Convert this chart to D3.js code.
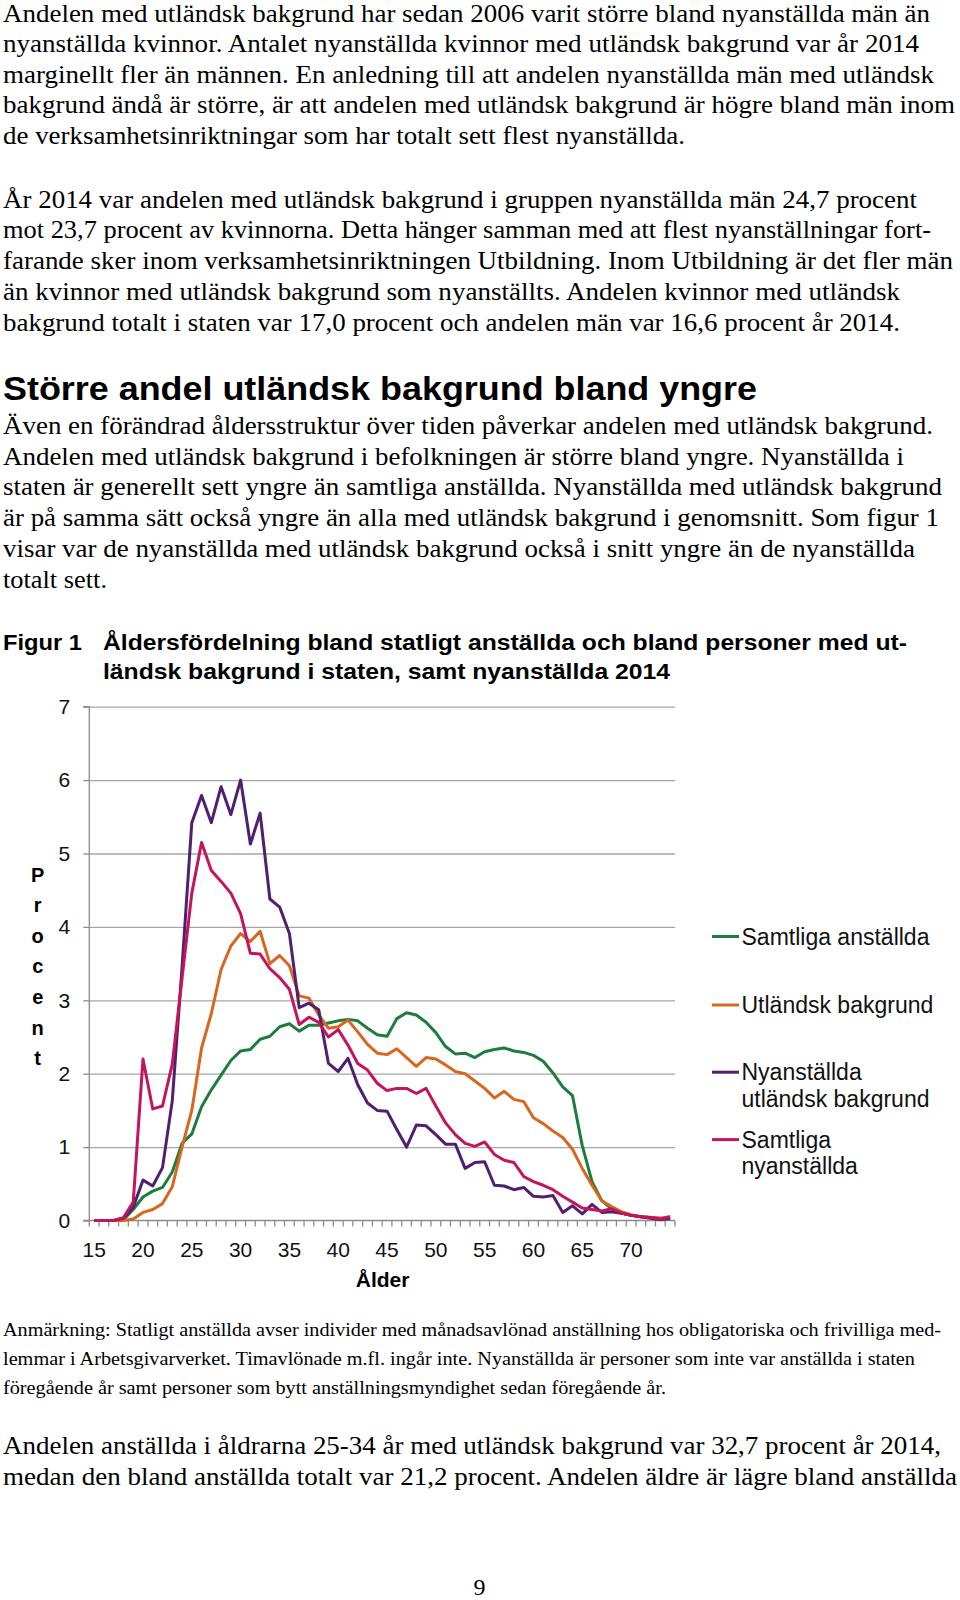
<!DOCTYPE html>
<html><head><meta charset="utf-8">
<script src="https://cdn.jsdelivr.net/npm/d3@7"></script>
<style>body{margin:0;background:#fff}svg{display:block}</style>
</head><body>
<svg id="page" width="960" height="1600"></svg>
<script>
// ---------- DATA ----------
const ages = [15,16,17,18,19,20,21,22,23,24,25,26,27,28,29,30,31,32,33,34,35,36,37,38,39,40,41,42,43,44,45,46,47,48,49,50,51,52,53,54,55,56,57,58,59,60,61,62,63,64,65,66,67,68,69,70,71,72,73,74];
const xTickLabels = [15,20,25,30,35,40,45,50,55,60,65,70];
const yTicks = [0,1,2,3,4,5,6,7];
const seriesNames = ["Samtliga anställda","Utländsk bakgrund","Nyanställda utländsk bakgrund","Samtliga nyanställda"];
const samtligaAnstallda = [0,0,0,0.01,0.15,0.32,0.40,0.45,0.66,1.05,1.18,1.55,1.78,1.98,2.18,2.31,2.33,2.47,2.51,2.64,2.68,2.58,2.66,2.66,2.69,2.72,2.74,2.72,2.62,2.53,2.51,2.75,2.83,2.80,2.70,2.56,2.37,2.27,2.28,2.22,2.30,2.33,2.35,2.31,2.29,2.25,2.17,2.01,1.82,1.70,1.02,0.53,0.27,0.16,0.10,0.07,0.05,0.04,0.03,0.02];
const utlandskBakgrund = [0,0,0,0,0.02,0.11,0.15,0.23,0.46,1.00,1.50,2.35,2.82,3.42,3.74,3.91,3.80,3.94,3.50,3.61,3.47,3.06,3.03,2.80,2.62,2.64,2.73,2.57,2.40,2.28,2.26,2.34,2.22,2.10,2.22,2.20,2.12,2.03,2.00,1.90,1.80,1.67,1.76,1.65,1.62,1.40,1.32,1.22,1.13,0.97,0.71,0.48,0.27,0.19,0.12,0.08,0.05,0.04,0.03,0.05];
const nyanstalldaUtlandsk = [0,0,0,0.03,0.18,0.55,0.47,0.72,1.63,3.45,5.42,5.79,5.42,5.91,5.53,6.00,5.13,5.55,4.38,4.27,3.91,2.90,2.96,2.87,2.14,2.03,2.21,1.85,1.60,1.50,1.49,1.24,1.00,1.30,1.29,1.17,1.04,1.04,0.71,0.79,0.80,0.48,0.47,0.42,0.45,0.33,0.32,0.34,0.11,0.20,0.09,0.22,0.11,0.12,0.10,0.07,0.05,0.03,0.01,0.03];
const samtligaNyanstallda = [0,0,0,0.04,0.25,2.20,1.52,1.56,2.13,3.30,4.46,5.15,4.77,4.62,4.46,4.18,3.64,3.63,3.43,3.31,3.15,2.67,2.77,2.70,2.50,2.60,2.39,2.14,2.05,1.87,1.77,1.80,1.80,1.73,1.80,1.56,1.33,1.17,1.05,1.01,1.07,0.90,0.82,0.79,0.60,0.53,0.48,0.42,0.33,0.25,0.17,0.15,0.13,0.16,0.10,0.07,0.05,0.04,0.02,0.05];
const legendLabels = [["Samtliga anställda"],["Utländsk bakgrund"],["Nyanställda","utländsk bakgrund"],["Samtliga","nyanställda"]];
const yAxisTitle = "Procent";
const xAxisTitle = "Ålder";

const para1 = ["Andelen med utländsk bakgrund har sedan 2006 varit större bland nyanställda män än",
"nyanställda kvinnor. Antalet nyanställda kvinnor med utländsk bakgrund var år 2014",
"marginellt fler än männen. En anledning till att andelen nyanställda män med utländsk",
"bakgrund ändå är större, är att andelen med utländsk bakgrund är högre bland män inom",
"de verksamhetsinriktningar som har totalt sett flest nyanställda."];
const para2 = ["År 2014 var andelen med utländsk bakgrund i gruppen nyanställda män 24,7 procent",
"mot 23,7 procent av kvinnorna. Detta hänger samman med att flest nyanställningar fort-",
"farande sker inom verksamhetsinriktningen Utbildning. Inom Utbildning är det fler män",
"än kvinnor med utländsk bakgrund som nyanställts. Andelen kvinnor med utländsk",
"bakgrund totalt i staten var 17,0 procent och andelen män var 16,6 procent år 2014."];
const heading = "Större andel utländsk bakgrund bland yngre";
const para3 = ["Även en förändrad åldersstruktur över tiden påverkar andelen med utländsk bakgrund.",
"Andelen med utländsk bakgrund i befolkningen är större bland yngre. Nyanställda i",
"staten är generellt sett yngre än samtliga anställda. Nyanställda med utländsk bakgrund",
"är på samma sätt också yngre än alla med utländsk bakgrund i genomsnitt. Som figur 1",
"visar var de nyanställda med utländsk bakgrund också i snitt yngre än de nyanställda",
"totalt sett."];
const figLabel = "Figur 1";
const figTitle = ["Åldersfördelning bland statligt anställda och bland personer med ut-",
"ländsk bakgrund i staten, samt nyanställda 2014"];
const note = ["Anmärkning: Statligt anställda avser individer med månadsavlönad anställning hos obligatoriska och frivilliga med-",
"lemmar i Arbetsgivarverket. Timavlönade m.fl. ingår inte. Nyanställda är personer som inte var anställda i staten",
"föregående år samt personer som bytt anställningsmyndighet sedan föregående år."];
const para4 = ["Andelen anställda i åldrarna 25-34 år med utländsk bakgrund var 32,7 procent år 2014,",
"medan den bland anställda totalt var 21,2 procent. Andelen äldre är lägre bland anställda"];
const pageNumber = "9";

// ---------- LAYOUT ----------
const svg = d3.select("#page");
const serif = "'Liberation Serif','Times New Roman',serif";
const sans = "'Liberation Sans',Arial,sans-serif";

function block(lines, opt){
  lines.forEach((t,i)=>{
    const el = svg.append("text")
      .attr("x", opt.x).attr("y", opt.y0 + i*opt.step)
      .attr("font-family", opt.font).attr("font-size", opt.size)
      .attr("font-weight", opt.weight||"normal").attr("fill","#000")
      .text(t);
    if (opt.widths && opt.widths[i]) el.attr("textLength", opt.widths[i]).attr("lengthAdjust","spacingAndGlyphs");
  });
}
block(para1,{x:3,y0:21.5,step:30.5,font:serif,size:25.5,widths:[927,916,931,952,682]});
block(para2,{x:3,y0:207.5,step:30.8,font:serif,size:25.5,widths:[914,928,950,897,897]});
block([heading],{x:3,y0:399.5,step:0,font:sans,size:33,weight:"bold",widths:[754]});
block(para3,{x:3,y0:433.8,step:30.8,font:serif,size:25.5,widths:[930,901,939,936,912,104]});
block([figLabel],{x:3,y0:650,step:0,font:sans,size:22,weight:"bold",widths:[79]});
block(figTitle,{x:103,y0:650,step:28.6,font:sans,size:22,weight:"bold",widths:[804,567]});
block(note,{x:3,y0:1336,step:29,font:serif,size:18.5,widths:[938,912,663]});
block(para4,{x:3,y0:1453.8,step:31,font:serif,size:25.5,widths:[938,954]});
svg.append("text").attr("x",479.5).attr("y",1595).attr("text-anchor","middle")
  .attr("font-family",serif).attr("font-size",24).text(pageNumber);

// ---------- CHART ----------
const plotLeft = 89.3, plotRight = 675, plotTop = 706.7, plotBottom = 1220.5;
const x = d3.scaleBand().domain(ages).range([plotLeft, plotRight]).padding(0);
const y = d3.scaleLinear().domain([0,7]).range([plotBottom, plotTop]);
const colors = ["#1c7d3e","#d9661f","#4f1f70","#c4145c"];
const chart = svg.append("g");

// gridlines
chart.append("g").attr("transform",`translate(${plotLeft},0)`)
  .call(d3.axisLeft(y).tickValues(yTicks.slice(1)).tickSize(-(plotRight-plotLeft)).tickFormat(""))
  .call(g=>{g.select(".domain").remove(); g.selectAll("line").attr("stroke","#a6a6a6").attr("stroke-width",1.3);});

// y axis
chart.append("g").attr("transform",`translate(${plotLeft},0)`)
  .call(d3.axisLeft(y).tickValues(yTicks).tickSize(6).tickPadding(13).tickFormat(d3.format("d")))
  .call(g=>{
    g.select(".domain").attr("stroke","#8c8c8c").attr("stroke-width",1.3).attr("d",`M-6,${plotTop}H0V${plotBottom}`);
    g.selectAll("line").attr("stroke","#8c8c8c").attr("stroke-width",1.3);
    g.selectAll("text").attr("font-family",sans).attr("font-size",21).attr("fill","#111");
  });

// x axis: tick marks at category boundaries
const xb = chart.append("g");
xb.append("line").attr("x1",plotLeft-6).attr("x2",plotRight).attr("y1",plotBottom).attr("y2",plotBottom)
  .attr("stroke","#8c8c8c").attr("stroke-width",1.3);
xb.selectAll("line.tk").data(ages.concat(["end"])).join("line").attr("class","tk")
  .attr("x1",d=> d==="end"? plotRight : x(d)).attr("x2",d=> d==="end"? plotRight : x(d))
  .attr("y1",plotBottom).attr("y2",plotBottom+6).attr("stroke","#8c8c8c").attr("stroke-width",1.3);
chart.append("g").attr("transform",`translate(0,${plotBottom})`)
  .call(d3.axisBottom(x).tickValues(xTickLabels).tickSize(0).tickPadding(22))
  .call(g=>{g.select(".domain").remove();
    g.selectAll("text").attr("font-family",sans).attr("font-size",21).attr("fill","#111");});

// axis titles
chart.append("text").attr("x",382.6).attr("y",1287).attr("text-anchor","middle")
  .attr("font-family",sans).attr("font-size",21).attr("font-weight","bold").text(xAxisTitle);
chart.append("g").selectAll("text").data(yAxisTitle.split("")).join("text")
  .attr("x",37.7).attr("y",(d,i)=>881.5+i*30.6).attr("text-anchor","middle")
  .attr("font-family",sans).attr("font-size",20).attr("font-weight","bold").text(d=>d);

// lines
const seriesData = [samtligaAnstallda, utlandskBakgrund, nyanstalldaUtlandsk, samtligaNyanstallda];
const line = d3.line().x((d,i)=>x(ages[i])+x.bandwidth()/2).y(d=>y(d));
chart.append("g").selectAll("path").data(seriesData).join("path")
  .attr("d",line).attr("fill","none").attr("stroke",(d,i)=>colors[i])
  .attr("stroke-width",3).attr("stroke-linejoin","round");

// legend
const legendY = [936.5, 1005, 1072.2, 1139.6];
const lg = chart.append("g").selectAll("g").data(legendLabels).join("g")
  .attr("transform",(d,i)=>`translate(712,${legendY[i]})`);
lg.append("line").attr("x1",0).attr("x2",27).attr("y1",0).attr("y2",0)
  .attr("stroke",(d,i)=>colors[i]).attr("stroke-width",3);
lg.each(function(d){
  const g = d3.select(this);
  d.forEach((t,j)=> g.append("text").attr("x",29.5).attr("y",8+j*26.6)
    .attr("font-family",sans).attr("font-size",23).attr("fill","#111").text(t));
});
</script>
</body></html>
